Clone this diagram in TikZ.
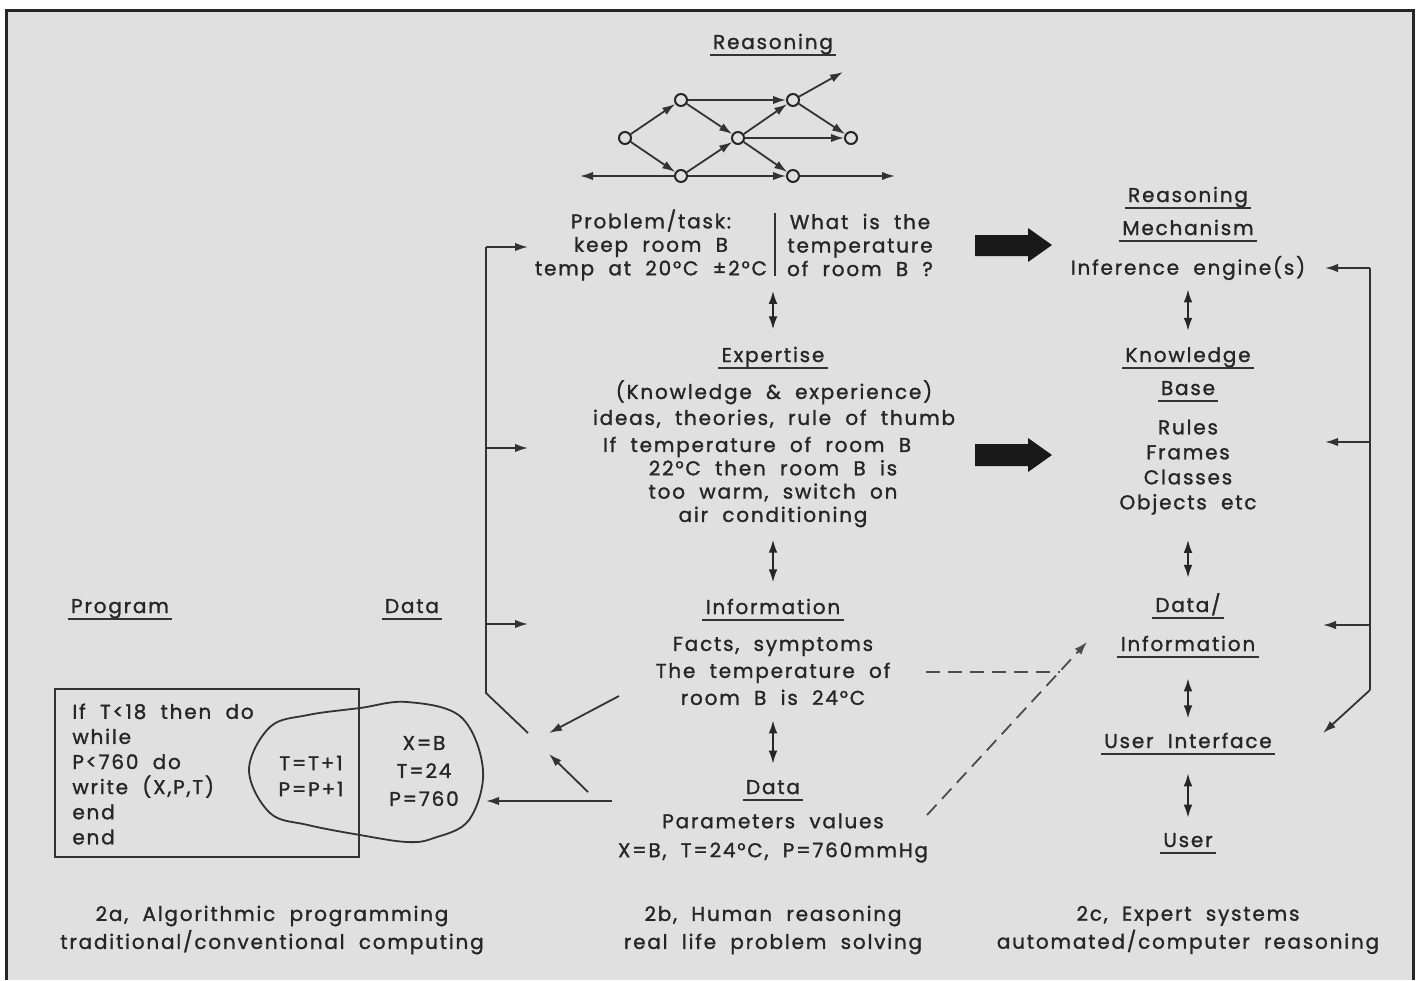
\documentclass[tikz,border=0pt]{standalone}
\usepackage{fontspec}
\setmainfont{Poppins}[LetterSpace=9, WordSpace=2, FakeBold=1.3]
\usetikzlibrary{arrows.meta,positioning}

\begin{document}
\begin{tikzpicture}[
    x=0.5pt, y=-0.5pt,
    every node/.style={font=\fontsize{10}{11.8}\selectfont, align=center, inner sep=0pt, text=black!85},
    head/.style={anchor=base, text depth=3pt, inner xsep=1.5pt,
      append after command={(\tikzlastnode.south west) edge[draw=black!80, line width=1pt] (\tikzlastnode.south east)}},
    netnode/.style={circle, draw=black!85, line width=1pt, minimum size=6pt, inner sep=0pt},
    flow/.style={-{Latex[length=6.5pt, width=4.2pt]}, line width=0.9pt, draw=black!80},
    both/.style={{Latex[length=6.5pt, width=4.4pt]}-{Latex[length=6.5pt, width=4.4pt]}, line width=0.9pt, draw=black!85},
    plain/.style={line width=0.9pt, draw=black!80},
    dashlink/.style={line width=0.9pt, draw=black!70, dash pattern=on 7pt off 4pt}
  ]
    \useasboundingbox (0,0) rectangle (1418,980);
    % page and frame
    \fill[white] (0,0) rectangle (1418,980);
    \fill[black!12] (6,10) rectangle (1413,980);
    \draw[line width=1.5pt, draw=black!85] (6,980) -- (6,10) -- (1413,10) -- (1413,980);

    % ---- 2b: human reasoning ----
    \node[head] (reason) at (773,49) {Reasoning};
    \node[netnode] (n1) at (625,138) {};
    \node[netnode] (n2) at (681,100) {};
    \node[netnode] (n3) at (681,176) {};
    \node[netnode] (n4) at (738,138) {};
    \node[netnode] (n5) at (793,100) {};
    \node[netnode] (n6) at (851,138) {};
    \node[netnode] (n7) at (793,176) {};
    \coordinate (out1) at (843,72);
    \coordinate (out2) at (580,176);
    \coordinate (out3) at (895,176);
    \draw[flow] (n1) -- (n2);
    \draw[flow] (n1) -- (n3);
    \draw[flow] (n2) -- (n5);
    \draw[flow] (n2) -- (n4);
    \draw[flow] (n3) -- (n4);
    \draw[flow] (n3) -- (n7);
    \draw[flow] (n4) -- (n5);
    \draw[flow] (n4) -- (n6);
    \draw[flow] (n4) -- (n7);
    \draw[flow] (n5) -- (n6);
    \draw[flow] (n5) -- (out1);
    \draw[flow] (n3) -- (out2);
    \draw[flow] (n7) -- (out3);

    \node[font=\fontsize{10}{11.75}\selectfont] (task) at (651,245) {Problem/task:\\keep room B\\temp at 20°C ±2°C};
    \node[font=\fontsize{10}{11.75}\selectfont] (quest) at (860,245) {What is the\\temperature\\of room B ?};
    \draw[plain] (775,213) -- (775,276);

    \node[head] (expert) at (773,362) {Expertise};
    \node[font=\fontsize{10}{13}\selectfont] (ideas) at (774,404) {(Knowledge \& experience)\\ideas, theories, rule of thumb};
    \node[font=\fontsize{10}{11.65}\selectfont] (rule) at (773,482) {If temperature of room B\hspace*{16pt}\\22°C then room B is\\too warm, switch on\\air conditioning};

    \node[head] (info) at (773,614) {Information};
    \node[font=\fontsize{10}{13.5}\selectfont] (facts) at (773,671) {Facts, symptoms\\The temperature of\\room B is 24°C};

    \node[head] (data) at (773,794) {Data};
    \node[font=\fontsize{10}{14.5}\selectfont] (params) at (773,838) {Parameters values\\X=B, T=24°C, P=760mmHg};

    \draw[both, shorten <=5pt, shorten >=8.5pt] (expert.north |- task.south) -- (expert.north);
    \draw[both, shorten <=6pt, shorten >=8pt] (info.north |- rule.south) -- (info.north);
    \draw[both, shorten <=7.5pt, shorten >=8pt] (data.north |- facts.south) -- (data.north);

    % feedback path on the left
    \coordinate (fb1) at (486,247);
    \coordinate (fb2) at (486,448);
    \coordinate (fb3) at (486,624);
    \coordinate (fbk) at (486,693);
    \coordinate (fbe) at (528,733);
    \draw[plain] (fb1) -- (fbk) -- (fbe);
    \draw[flow] (fb1) -- ++(42,0);
    \draw[flow] (fb2) -- ++(42,0);
    \draw[flow] (fb3) -- ++(42,0);

    % ---- 2a: algorithmic programming ----
    \node[head] (prog) at (120,613) {Program};
    \node[head] (pdata) at (412,613) {Data};
    \draw[plain] (55,689) rectangle (359,857);
    \node[anchor=west, align=left, font=\fontsize{10}{12.55}\selectfont] (code) at (72,774) {If T<18 then do\\while\\P<760 do\\write (X,P,T)\\end\\end};
    \draw[plain] plot[smooth cycle, tension=0.6] coordinates {
      (249,770) (270,727) (308,715) (360,708) (407,702) (461,717) (483,770)
      (469,820) (434,838) (407,842) (360,835) (308,825) (270,813)};
    \node[font=\fontsize{10}{13}\selectfont] (incr) at (311,776) {T=T+1\\P=P+1};
    \node[font=\fontsize{10}{14}\selectfont] (vals) at (424,771) {X=B\\T=24\\P=760};

    \coordinate (i1s) at (619,696);
    \coordinate (i1e) at (549,733);
    \coordinate (i2s) at (588,792);
    \coordinate (i2e) at (549,754);
    \coordinate (i3s) at (612,801);
    \coordinate (i3e) at (486,801);
    \draw[flow] (i1s) -- (i1e);
    \draw[flow] (i2s) -- (i2e);
    \draw[flow] (i3s) -- (i3e);

    % ---- 2c: expert systems ----
    \node[head] (rmech1) at (1188,202) {Reasoning};
    \node[head] (rmech2) at (1188,235) {Mechanism};
    \node (engine) at (1188,268) {Inference engine(s)};
    \node[head] (kb1) at (1188,362) {Knowledge};
    \node[head] (kb2) at (1188,395) {Base};
    \node[font=\fontsize{10}{12.5}\selectfont] (rules) at (1188,467) {Rules\\Frames\\Classes\\Objects etc};
    \node[head] (di1) at (1188,612) {Data/};
    \node[head] (di2) at (1188,651) {Information};
    \node[head] (uif) at (1188,748) {User Interface};
    \node[head] (user) at (1188,847) {User};

    \draw[both, shorten <=4.5pt, shorten >=8pt] (kb1.north |- engine.south) -- (kb1.north);
    \draw[both, shorten <=12.5pt, shorten >=7.5pt] (di1.north |- rules.south) -- (di1.north);
    \draw[both, shorten <=10.5pt, shorten >=7pt] (uif.north |- di2.south) -- (uif.north);
    \draw[both, shorten <=9.5pt, shorten >=7.5pt] (user.north |- uif.south) -- (user.north);

    % feedback path on the right
    \coordinate (rb1) at (1370,268);
    \coordinate (rb2) at (1370,442);
    \coordinate (rb3) at (1370,625);
    \coordinate (rbk) at (1370,690);
    \coordinate (rbe) at (1323,733);
    \draw[plain] (rb1) -- (rbk);
    \draw[flow] (rbk) -- (rbe);
    \draw[flow] (rb1) -- ++(-45,0);
    \draw[flow] (rb2) -- ++(-45,0);
    \draw[flow] (rb3) -- ++(-47,0);

    % block arrows
    \fill[black!90] (975,235) -- (1028,235) -- (1028,228) -- (1052,245) -- (1028,262) -- (1028,256) -- (975,256) -- cycle;
    \fill[black!90] (975,444) -- (1028,444) -- (1028,438) -- (1052,455) -- (1028,472) -- (1028,466) -- (975,466) -- cycle;

    % dashed links
    \coordinate (d1) at (926,672);
    \coordinate (d2) at (1060,672);
    \coordinate (d3) at (927,815);
    \coordinate (d4) at (1087,642);
    \draw[dashlink] (d1) -- (d2);
    \draw[dashlink, -{Latex[length=6.5pt, width=4.4pt]}] (d3) -- (d4);

    % captions
    \node[font=\fontsize{10}{14}\selectfont] (cap1) at (272,930) {2a, Algorithmic programming\\traditional/conventional computing};
    \node[font=\fontsize{10}{14}\selectfont] (cap2) at (773,930) {2b, Human reasoning\\real life problem solving};
    \node[font=\fontsize{10}{14}\selectfont] (cap3) at (1188,930) {2c, Expert systems\\automated/computer reasoning};
  \end{tikzpicture}
\end{document}
